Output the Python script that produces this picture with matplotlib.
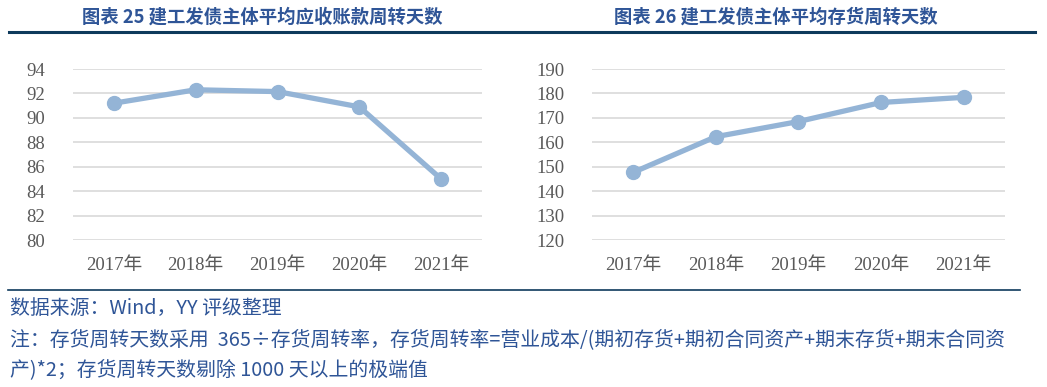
import matplotlib
matplotlib.use("Agg")
import matplotlib.pyplot as plt
from matplotlib.lines import Line2D

# data
years = ["2017年", "2018年", "2019年", "2020年", "2021年"]
receivable_days = [91.2, 92.3, 92.15, 90.9, 85.0]
inventory_days = [147.7, 162.3, 168.5, 176.3, 178.4]

titles = ["图表 25 建工发债主体平均应收账款周转天数", "图表 26 建工发债主体平均存货周转天数"]
source_note = "数据来源：Wind，YY 评级整理"
note_line1 = "注：存货周转天数采用  365÷存货周转率，存货周转率=营业成本/(期初存货+期初合同资产+期末存货+期末合同资"
note_line2 = "产)*2；存货周转天数剔除 1000 天以上的极端值"

line_color = "#94B4D6"
title_color = "#2F5597"
grid_color = "#D9D9D9"
tick_color = "#595959"
navy = "#0E3A5C"
tick_font = ["Liberation Serif", "Noto Sans CJK SC"]
cjk_font = ["Noto Sans CJK SC", "DejaVu Sans"]

# tick labels are in a Times-like serif, 年 falls back to the CJK font
plt.rcParams["font.family"] = tick_font

fig = plt.figure(figsize=(10.47, 3.87), dpi=100)

def draw_panel(rect, values, ylo, yhi, step):
    ax = fig.add_axes(rect)
    ax.plot(range(len(years)), values, color=line_color, lw=3.8,
            marker="o", markersize=10, solid_capstyle="round", zorder=3)
    ax.set_xlim(-0.5, len(years) - 0.5)
    ax.set_ylim(ylo, yhi)
    ax.set_yticks(range(ylo, yhi + 1, step))
    ax.set_xticks(range(len(years)))
    ax.set_xticklabels(years)
    ax.grid(axis="y", color=grid_color, lw=1.2)
    ax.set_axisbelow(True)
    for s in ax.spines.values():
        s.set_visible(False)
    ax.tick_params(length=0, colors=tick_color, labelsize=13.5)
    ax.tick_params(axis="x", pad=12)
    ax.tick_params(axis="y", pad=20)
    return ax

draw_panel([0.0697, 0.3798, 0.3907, 0.4419], receivable_days, 80, 94, 2)
draw_panel([0.5654, 0.3798, 0.3945, 0.4419], inventory_days, 120, 190, 10)

# titles and rules
fig.text(262 / 1047, 1 - 17 / 387, titles[0], ha="center", va="center",
         fontsize=13.2, fontweight="bold", color=title_color, family=cjk_font)
fig.text(776 / 1047, 1 - 17 / 387, titles[1], ha="center", va="center",
         fontsize=13.2, fontweight="bold", color=title_color, family=cjk_font)
fig.add_artist(Line2D([9 / 1047, 1035 / 1047], [1 - 32 / 387] * 2, color=navy, lw=2.2))
fig.add_artist(Line2D([8 / 1047, 1020 / 1047], [1 - 290 / 387] * 2, color=navy, lw=1.2))

# footer
for y, txt in [(308, source_note), (340, note_line1), (370, note_line2)]:
    fig.text(10 / 1047, 1 - y / 387, txt, ha="left", va="center",
             fontsize=14.3, color=title_color, family=cjk_font)

fig.savefig("out.png", dpi=100)
